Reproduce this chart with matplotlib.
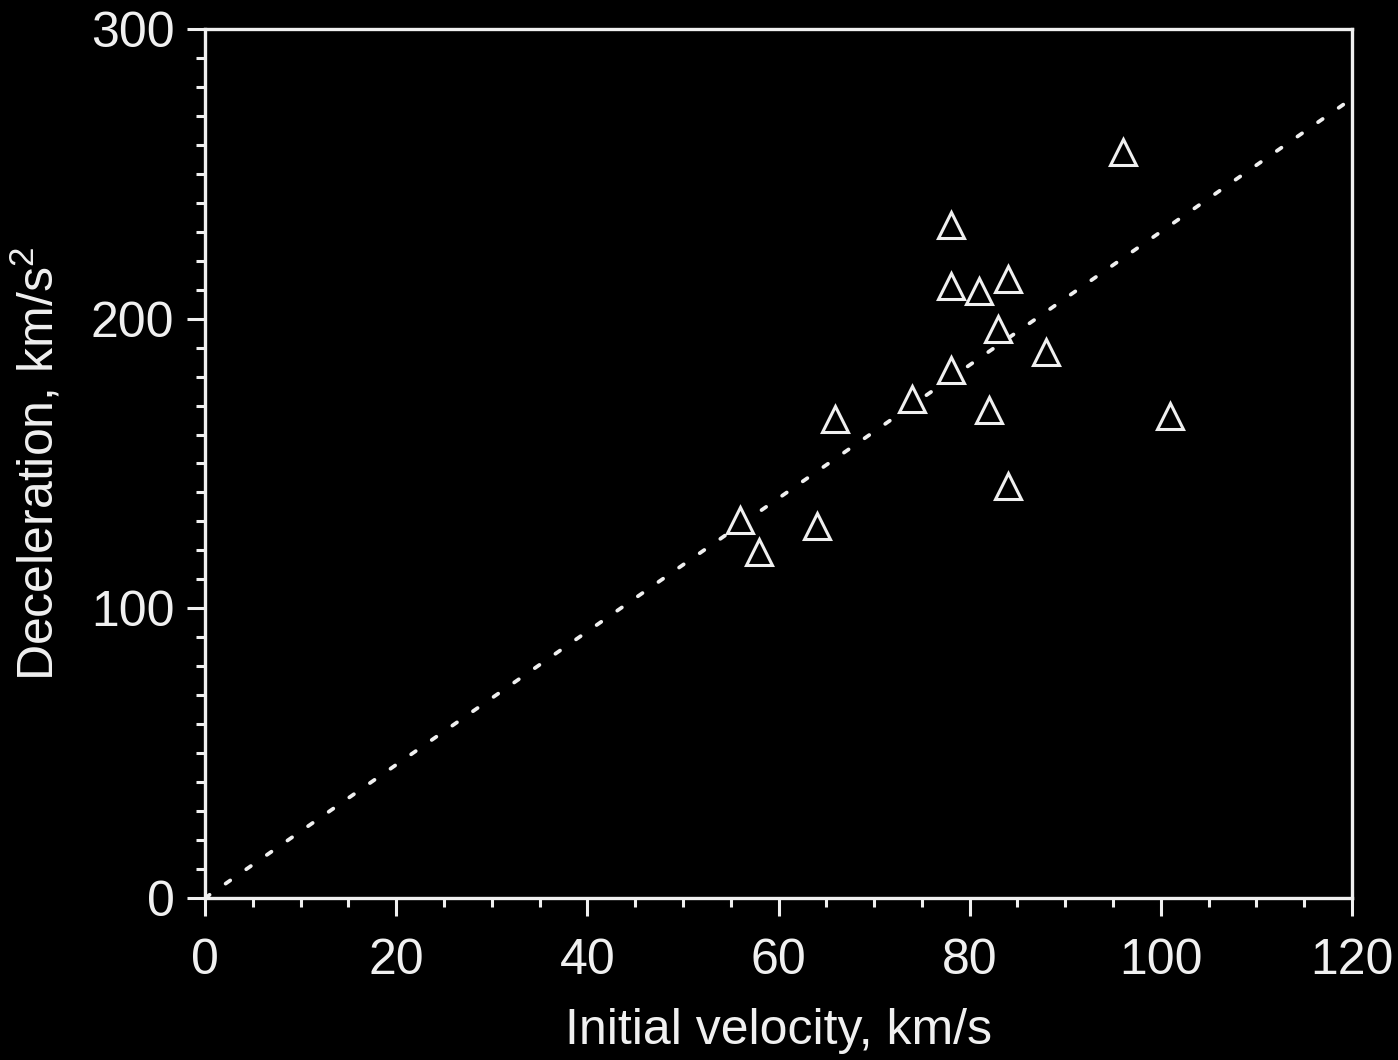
import matplotlib
matplotlib.use("Agg")
import matplotlib.pyplot as plt
from matplotlib.ticker import MultipleLocator

# Initial velocity (km/s) and deceleration (km/s^2) of each event
velocity = [56.0, 58.0, 64.0, 65.9, 74.0, 78.0, 78.0, 78.0, 81.0, 84.0,
            83.0, 82.0, 84.0, 88.0, 96.0, 101.0]
deceleration = [130.6, 119.4, 128.5, 165.4, 172.3, 232.5, 211.4, 182.4, 209.5,
                213.6, 196.5, 168.4, 142.4, 188.5, 257.7, 166.4]

# Linear trend through the origin
trend_x = [0, 120]
trend_y = [0, 276]

x_ticks = [0, 20, 40, 60, 80, 100, 120]
y_ticks = [0, 100, 200, 300]

FG = "#f0f0f0"
plt.rcParams["font.family"] = ["Liberation Sans", "DejaVu Sans"]
plt.rcParams["mathtext.fontset"] = "custom"
plt.rcParams["mathtext.rm"] = "Liberation Sans"

fig = plt.figure(figsize=(13.98, 10.60), dpi=100, facecolor="black")
ax = fig.add_axes([205 / 1398, 162 / 1060, 1147 / 1398, 869 / 1060])
ax.set_facecolor("black")

ax.plot(trend_x, trend_y, color=FG, lw=2.7, linestyle=(0, (1.5, 5.2)),
        dash_capstyle="round", zorder=2)
ax.plot(velocity, deceleration, linestyle="none", marker="^", ms=19,
        mfc="black", mec=FG, mew=2.2, zorder=3)

ax.set_xlim(0, 120)
ax.set_ylim(0, 300)
ax.set_xticks(x_ticks)
ax.set_yticks(y_ticks)
ax.xaxis.set_minor_locator(MultipleLocator(5))
ax.yaxis.set_minor_locator(MultipleLocator(10))

for s in ax.spines.values():
    s.set_color(FG)
    s.set_linewidth(2.4)

ax.tick_params(which="both", direction="out", colors=FG, width=2.2,
               labelsize=36, top=False, right=False)
ax.tick_params(which="major", length=13)
ax.tick_params(which="minor", length=6.5)
ax.tick_params(axis="x", which="major", pad=16)
ax.tick_params(axis="y", which="major", pad=9)

ax.set_xlabel("Initial velocity, km/s", fontsize=36, color=FG, labelpad=17)
ax.set_ylabel("Deceleration, km/s$^2$", fontsize=36, color=FG, labelpad=20)

fig.savefig("out.png", dpi=100, facecolor="black")
